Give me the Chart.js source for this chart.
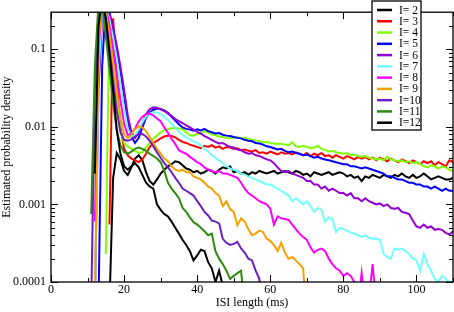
<!DOCTYPE html>
<html>
<head>
<meta charset="utf-8">
<script src="https://cdn.jsdelivr.net/npm/chart.js"></script>
<style>
  body { margin: 0; background: #fff; }
  #wrap { width: 454px; height: 312px; }
</style>
</head>
<body>
<div id="wrap"><canvas id="isi"></canvas></div>

<script>
  // axis ticks
  const xTicks = [0, 20, 40, 60, 80, 100];
  const yTicks = [0.0001, 0.001, 0.01, 0.1];
  const yTickLabels = ['0.0001', '0.001', '0.01', '0.1'];

  // series labels and colours (xmgrace palette)
  const labels = ['I= 2', 'I= 3', 'I= 4', 'I= 5', 'I= 6', 'I= 7', 'I= 8', 'I= 9', 'I=10', 'I=11', 'I=12'];
  const colors = ['#000000', '#ff0000', '#7fff00', '#0000ff', '#9400d3', '#70ffff', '#ff00ff', '#f5a000', '#6a1fc0', '#2f8a10', '#000000'];

  // first ISI bin (ms) of each series, bins are 1 ms apart
  const starts = [16, 16, 15, 13, 12, 12, 12, 12, 11, 11, 12];

  // estimated probability density per 1 ms bin
  const i2 = [5e-5, 2.2e-3, 4.6e-3, 3.8e-3, 2.7e-3, 2.4e-3, 3.0e-3, 3.9e-3, 4.3e-3, 3.7e-3,
    2.6e-3, 2.0e-3, 1.8e-3, 2.1e-3, 2.5e-3, 2.8e-3, 3.1e-3, 3.3e-3, 3.6e-3, 3.5e-3,
    3.2e-3, 2.9e-3, 2.8e-3, 2.6e-3, 2.7e-3, 2.5e-3, 2.6e-3, 2.8e-3, 2.7e-3, 2.5e-3,
    2.8e-3, 3.0e-3, 2.9e-3, 3.1e-3, 2.6e-3, 2.7e-3, 2.5e-3, 2.6e-3, 2.4e-3, 2.6e-3,
    2.5e-3, 2.7e-3, 2.6e-3, 2.5e-3, 2.6e-3, 2.7e-3, 2.5e-3, 2.6e-3, 2.7e-3, 2.6e-3,
    2.5e-3, 2.7e-3, 2.6e-3, 2.4e-3, 2.5e-3, 2.3e-3, 2.6e-3, 2.5e-3, 2.4e-3, 2.5e-3,
    2.6e-3, 2.4e-3, 2.5e-3, 2.6e-3, 2.5e-3, 2.3e-3, 2.4e-3, 2.2e-3, 2.3e-3, 2.0e-3,
    2.3e-3, 2.2e-3, 2.4e-3, 2.3e-3, 2.2e-3, 2.4e-3, 2.3e-3, 2.2e-3, 2.4e-3, 2.3e-3,
    2.5e-3, 2.3e-3, 2.2e-3, 2.4e-3, 2.2e-3, 2.3e-3, 2.5e-3, 2.3e-3, 2.1e-3, 2.2e-3,
    2.3e-3, 2.2e-3, 2.1e-3, 2.1e-3, 2.2e-3];

  const i3 = [5.5e-4, 0.25, 0.04, 0.01, 5.2e-3, 4.3e-3, 3.9e-3, 3.7e-3, 3.5e-3, 3.8e-3,
    4.5e-3, 5.5e-3, 6.2e-3, 6.6e-3, 7.1e-3, 7.5e-3, 7.7e-3, 7.6e-3, 7.3e-3, 6.8e-3,
    6.4e-3, 6.2e-3, 5.9e-3, 5.7e-3, 5.5e-3, 5.3e-3, 5.7e-3, 5.5e-3, 5.8e-3, 5.4e-3,
    5.6e-3, 5.2e-3, 5.5e-3, 5.4e-3, 5.2e-3, 5.3e-3, 5.0e-3, 5.1e-3, 4.9e-3, 4.8e-3,
    5.0e-3, 4.6e-3, 4.7e-3, 4.5e-3, 4.8e-3, 4.6e-3, 4.4e-3, 4.7e-3, 4.5e-3, 4.6e-3,
    4.4e-3, 4.7e-3, 4.5e-3, 4.3e-3, 4.6e-3, 4.2e-3, 4.5e-3, 4.3e-3, 4.6e-3, 4.2e-3,
    4.3e-3, 4.0e-3, 4.3e-3, 4.1e-3, 3.9e-3, 4.2e-3, 4.0e-3, 3.8e-3, 4.1e-3, 3.9e-3,
    4.1e-3, 3.8e-3, 4.0e-3, 3.7e-3, 4.0e-3, 3.8e-3, 3.6e-3, 3.9e-3, 3.7e-3, 3.5e-3,
    3.8e-3, 3.6e-3, 3.4e-3, 3.7e-3, 3.5e-3, 3.3e-3, 3.6e-3, 3.4e-3, 3.6e-3, 3.2e-3,
    3.5e-3, 3.3e-3, 3.1e-3, 3.7e-3, 3.5e-3];

  const i4 = [2.3e-4, 0.3, 0.1, 0.025, 9.0e-3, 6.2e-3, 5.6e-3, 5.2e-3, 4.9e-3, 4.6e-3,
    4.7e-3, 5.4e-3, 6.2e-3, 7.0e-3, 7.7e-3, 8.5e-3, 9.0e-3, 9.4e-3, 9.6e-3, 9.7e-3,
    9.5e-3, 9.3e-3, 8.5e-3, 7.8e-3, 7.7e-3, 8.1e-3, 8.2e-3, 8.8e-3, 8.5e-3, 8.0e-3,
    7.8e-3, 7.5e-3, 7.4e-3, 7.2e-3, 7.1e-3, 7.2e-3, 7.4e-3, 7.1e-3, 7.2e-3, 7.0e-3,
    6.8e-3, 6.6e-3, 6.5e-3, 6.3e-3, 6.4e-3, 6.2e-3, 6.1e-3, 6.0e-3, 6.1e-3, 5.9e-3,
    5.8e-3, 6.3e-3, 5.6e-3, 5.5e-3, 5.7e-3, 5.5e-3, 5.3e-3, 5.4e-3, 5.7e-3, 5.2e-3,
    5.0e-3, 4.8e-3, 4.9e-3, 4.7e-3, 4.6e-3, 4.5e-3, 4.6e-3, 4.3e-3, 4.4e-3, 4.2e-3,
    4.1e-3, 4.2e-3, 4.0e-3, 3.9e-3, 3.8e-3, 3.9e-3, 3.7e-3, 4.1e-3, 3.8e-3, 3.7e-3,
    3.6e-3, 3.7e-3, 3.5e-3, 3.6e-3, 3.4e-3, 3.5e-3, 3.3e-3, 3.1e-3, 3.0e-3, 3.2e-3,
    3.1e-3, 2.9e-3, 3.1e-3, 3.0e-3, 2.8e-3, 2.7e-3];

  const i5 = [5e-5, 0.06, 0.4, 0.3, 0.18, 0.1, 0.052, 0.025, 0.012, 7.5e-3,
    6.2e-3, 7.2e-3, 9.8e-3, 0.013, 0.0152, 0.0166, 0.0172, 0.017, 0.0163, 0.0152,
    0.0135, 0.012, 0.0108, 9.8e-3, 9.4e-3, 9.2e-3, 8.9e-3, 9.3e-3, 9.0e-3, 9.4e-3,
    8.8e-3, 8.5e-3, 8.2e-3, 8.3e-3, 7.9e-3, 7.7e-3, 7.6e-3, 7.4e-3, 7.2e-3, 7.1e-3,
    6.8e-3, 6.6e-3, 6.5e-3, 6.2e-3, 6.1e-3, 5.9e-3, 5.6e-3, 5.5e-3, 5.3e-3, 5.1e-3,
    5.2e-3, 4.9e-3, 4.7e-3, 4.8e-3, 4.6e-3, 4.5e-3, 4.3e-3, 4.4e-3, 4.2e-3, 4.0e-3,
    4.1e-3, 3.9e-3, 3.8e-3, 3.7e-3, 3.6e-3, 3.5e-3, 3.4e-3, 3.3e-3, 3.3e-3, 3.1e-3,
    3.1e-3, 3.0e-3, 2.9e-3, 3.0e-3, 2.9e-3, 2.8e-3, 2.7e-3, 2.6e-3, 2.5e-3, 2.3e-3,
    2.3e-3, 2.2e-3, 2.1e-3, 2.1e-3, 2.0e-3, 1.9e-3, 1.9e-3, 1.8e-3, 1.8e-3, 1.7e-3,
    1.7e-3, 1.6e-3, 1.7e-3, 1.6e-3, 1.5e-3, 1.6e-3, 1.5e-3, 1.5e-3];

  const i6 = [5e-5, 0.03, 0.25, 0.4, 0.28, 0.19, 0.11, 0.06, 0.03, 0.014,
    8.5e-3, 7.2e-3, 8.5e-3, 0.011, 0.0145, 0.0168, 0.0178, 0.0176, 0.0168, 0.016,
    0.0148, 0.0138, 0.0126, 0.0118, 0.0112, 0.0104, 9.8e-3, 9.2e-3, 8.6e-3, 8.2e-3,
    7.6e-3, 7.2e-3, 6.8e-3, 6.4e-3, 6.1e-3, 6.2e-3, 5.8e-3, 5.5e-3, 5.4e-3, 5.1e-3,
    5.0e-3, 4.7e-3, 4.5e-3, 4.6e-3, 4.3e-3, 4.2e-3, 4.0e-3, 3.8e-3, 3.7e-3, 3.4e-3,
    3.0e-3, 2.7e-3, 2.6e-3, 2.7e-3, 2.5e-3, 2.4e-3, 2.3e-3, 2.2e-3, 2.0e-3, 2.0e-3,
    1.8e-3, 1.8e-3, 1.6e-3, 1.7e-3, 1.5e-3, 1.6e-3, 1.5e-3, 1.4e-3, 1.4e-3, 1.3e-3,
    1.4e-3, 1.2e-3, 1.2e-3, 1.1e-3, 1.2e-3, 1.1e-3, 1.05e-3, 1.0e-3, 1.03e-3, 9.5e-4,
    1.0e-3, 9.0e-4, 8.8e-4, 9.0e-4, 8.0e-4, 7.8e-4, 7.5e-4, 6.2e-4, 5.2e-4, 5.0e-4,
    5.5e-4, 5.0e-4, 5.2e-4, 4.7e-4, 4.8e-4, 4.7e-4, 4.3e-4, 4.1e-4, 4.5e-4];

  const i7 = [5e-5, 0.05, 0.3, 0.35, 0.24, 0.14, 0.075, 0.036, 0.017, 9.5e-3,
    7.5e-3, 7.8e-3, 9.2e-3, 0.0115, 0.0135, 0.0148, 0.0155, 0.0153, 0.0146, 0.0134,
    0.0122, 0.011, 9.8e-3, 8.6e-3, 7.9e-3, 7.3e-3, 6.9e-3, 6.5e-3, 6.2e-3, 5.8e-3,
    5.2e-3, 4.8e-3, 4.3e-3, 4.0e-3, 3.7e-3, 3.4e-3, 3.1e-3, 2.9e-3, 2.8e-3, 2.7e-3,
    2.5e-3, 2.4e-3, 2.3e-3, 2.2e-3, 2.1e-3, 2.0e-3, 1.9e-3, 1.8e-3, 1.8e-3, 1.7e-3,
    1.6e-3, 1.5e-3, 1.4e-3, 1.3e-3, 1.1e-3, 1.2e-3, 1.1e-3, 1.0e-3, 1.1e-3, 9.5e-4,
    8.0e-4, 9.0e-4, 8.5e-4, 6.0e-4, 6.8e-4, 6.5e-4, 4.4e-4, 5.0e-4, 4.8e-4, 4.6e-4,
    4.3e-4, 4.2e-4, 4.0e-4, 3.8e-4, 4.0e-4, 3.7e-4, 3.6e-4, 3.6e-4, 3.5e-4, 2.3e-4,
    2.1e-4, 2.0e-4, 2.7e-4, 2.6e-4, 2.7e-4, 2.5e-4, 2.3e-4, 2.0e-4, 1.9e-4, 1.4e-4,
    2.3e-4, 1.7e-4, 1.4e-4, 1.1e-4, 1.0e-4, 1.2e-4, 1.1e-4, 1.0e-4, 1.0e-4];

  const i8 = [6e-4, 0.1, 0.4, 0.35, 0.2, 0.1, 0.048, 0.022, 0.011, 7.8e-3,
    8.2e-3, 9.5e-3, 0.0117, 0.0135, 0.0145, 0.0148, 0.014, 0.0128, 0.0118, 9.8e-3,
    8.4e-3, 7.0e-3, 6.0e-3, 5.0e-3, 4.7e-3, 4.5e-3, 4.1e-3, 3.8e-3, 3.5e-3, 3.3e-3,
    3.0e-3, 2.8e-3, 2.7e-3, 2.6e-3, 2.7e-3, 2.5e-3, 2.5e-3, 2.4e-3, 2.3e-3, 2.2e-3,
    1.9e-3, 1.6e-3, 1.4e-3, 1.3e-3, 1.2e-3, 1.1e-3, 1.05e-3, 1.0e-3, 8.8e-4, 5.5e-4,
    7.0e-4, 6.6e-4, 6.5e-4, 6.3e-4, 5.5e-4, 4.8e-4, 4.2e-4, 3.8e-4, 3.5e-4, 2.8e-4,
    2.4e-4, 2.6e-4, 2.7e-4, 2.5e-4, 2.0e-4, 1.7e-4, 1.5e-4, 1.4e-4, 1.2e-4, 1.3e-4,
    1.2e-4, 1.0e-4, 5e-5, 1.3e-4, 5e-5, 6e-5, 1.7e-4, 5e-5];

  const i9 = [5e-5, 0.12, 0.45, 0.32, 0.15, 0.065, 0.028, 0.013, 8.0e-3, 7.1e-3,
    8.0e-3, 9.3e-3, 0.0102, 9.8e-3, 8.8e-3, 7.4e-3, 6.2e-3, 5.2e-3, 4.5e-3, 3.9e-3,
    3.6e-3, 3.1e-3, 2.8e-3, 2.7e-3, 2.8e-3, 2.6e-3, 2.6e-3, 2.3e-3, 2.2e-3, 2.1e-3,
    1.9e-3, 1.7e-3, 1.6e-3, 1.4e-3, 1.3e-3, 9.5e-4, 1.1e-3, 8.7e-4, 8.0e-4, 5.4e-4,
    6.6e-4, 6.0e-4, 4.8e-4, 4.0e-4, 4.2e-4, 4.6e-4, 4.4e-4, 3.6e-4, 3.4e-4, 3.0e-4,
    2.5e-4, 3.2e-4, 2.4e-4, 2.0e-4, 2.1e-4, 1.9e-4, 1.7e-4, 1.5e-4, 3e-5];

  const i10 = [5e-5, 0.03, 0.3, 0.4, 0.25, 0.1, 0.04, 0.016, 8.5e-3, 6.8e-3,
    6.6e-3, 6.9e-3, 7.5e-3, 8.0e-3, 8.1e-3, 7.5e-3, 6.6e-3, 5.6e-3, 4.7e-3, 4.0e-3,
    3.4e-3, 3.0e-3, 2.6e-3, 2.2e-3, 1.9e-3, 1.6e-3, 1.5e-3, 1.4e-3, 1.3e-3, 1.1e-3,
    9.5e-4, 8.0e-4, 7.2e-4, 6.2e-4, 6.0e-4, 5.7e-4, 3.6e-4, 3.2e-4, 3.0e-4, 3.1e-4,
    3.3e-4, 2.7e-4, 2.4e-4, 2.0e-4, 1.9e-4, 1.4e-4, 1.1e-4, 5e-5];

  const i11 = [7.5e-4, 0.06, 0.4, 0.35, 0.15, 0.055, 0.02, 9.0e-3, 5.8e-3, 4.7e-3,
    4.5e-3, 4.8e-3, 5.2e-3, 5.4e-3, 5.2e-3, 4.9e-3, 4.5e-3, 4.2e-3, 3.9e-3, 3.5e-3,
    2.7e-3, 1.9e-3, 1.6e-3, 1.4e-3, 1.2e-3, 9.0e-4, 8.0e-4, 6.8e-4, 5.9e-4, 5.5e-4,
    5.0e-4, 4.5e-4, 4.0e-4, 4.2e-4, 2.5e-4, 2.0e-4, 1.7e-4, 1.4e-4, 1.1e-4, 1.2e-4,
    1.3e-4, 1.4e-4, 5e-5];

  const i12 = [2.5e-3, 0.2, 0.45, 0.25, 0.09, 0.03, 9.0e-3, 4.5e-3, 3.1e-3, 2.8e-3,
    3.1e-3, 3.4e-3, 3.0e-3, 2.4e-3, 1.9e-3, 1.7e-3, 1.6e-3, 1.0e-3, 8.5e-4, 7.5e-4,
    7.0e-4, 6.0e-4, 5.0e-4, 4.2e-4, 3.5e-4, 3.0e-4, 2.5e-4, 1.9e-4, 2.2e-4, 2.6e-4,
    2.5e-4, 1.8e-4, 1.5e-4, 1.0e-4, 1.4e-4, 9e-5, 5e-5];

  const series = [i2, i3, i4, i5, i6, i7, i8, i9, i10, i11, i12];

  Chart.defaults.font.family = '"Liberation Serif", "Times New Roman", serif';
  Chart.defaults.font.size = 12;
  Chart.defaults.color = '#000';

  const datasets = series.map((vals, i) => ({
    label: labels[i],
    data: vals.map((v, k) => ({x: starts[i] + k, y: v})),
    borderColor: colors[i],
    borderWidth: 2,
    pointRadius: 0,
    tension: 0,
    clip: 0,
    order: series.length - i
  }));

  // frame, inward ticks and the legend box, drawn the xmgrace way
  const gracePlugin = {
    id: 'grace',
    afterDatasetsDraw(chart) {
      const {ctx, chartArea: a, scales: {x, y}} = chart;
      ctx.save();
      ctx.strokeStyle = '#000';
      ctx.lineWidth = 1.3;
      ctx.strokeRect(a.left, a.top, a.right - a.left, a.bottom - a.top);

      const seg = (x1, y1, x2, y2) => {
        ctx.beginPath(); ctx.moveTo(x1, y1); ctx.lineTo(x2, y2); ctx.stroke();
      };
      ctx.lineWidth = 1;
      for (let v = 0; v <= 110; v += 10) {
        const px = Math.round(x.getPixelForValue(v)) + 0.5;
        const len = xTicks.includes(v) ? 7 : 4;
        seg(px, a.bottom, px, a.bottom - len);
        seg(px, a.top, px, a.top + len);
      }
      for (const d of yTicks) {
        for (let m = 1; m <= 9; m++) {
          const v = d * m;
          if (v > y.max) break;
          const py = Math.round(y.getPixelForValue(v)) + 0.5;
          const len = m === 1 ? 7 : 4;
          seg(a.left, py, a.left + len, py);
          seg(a.right, py, a.right - len, py);
        }
      }

      // legend
      const bx = 372, by = 1, bw = 49, bh = 129, row = 11.27;
      ctx.fillStyle = '#fff';
      ctx.fillRect(bx, by, bw, bh);
      ctx.lineWidth = 1.3;
      ctx.strokeRect(bx, by, bw, bh);
      ctx.font = '11.5px "Liberation Serif", serif';
      ctx.textBaseline = 'middle';
      ctx.textAlign = 'left';
      chart.data.datasets.forEach((ds, i) => {
        const ry = 10 + i * row;
        ctx.strokeStyle = ds.borderColor;
        ctx.lineWidth = 2.5;
        seg(377, ry, 392, ry);
        ctx.fillStyle = '#000';
        ctx.fillText(ds.label, 399, ry + 0.5);
      });
      ctx.restore();
    }
  };

  new Chart(document.getElementById('isi'), {
    type: 'line',
    data: {datasets: datasets},
    plugins: [gracePlugin],
    options: {
      responsive: true,
      maintainAspectRatio: false,
      animation: false,
      layout: {padding: {top: 2, right: 1, left: 0, bottom: 0}},
      plugins: {legend: {display: false}, tooltip: {enabled: false}},
      scales: {
        x: {
          type: 'linear',
          min: 0,
          max: 110,
          grid: {display: false, drawTicks: false},
          border: {display: false},
          afterBuildTicks: s => { s.ticks = xTicks.map(v => ({value: v})); },
          afterFit: s => { s.height = 30; },
          ticks: {padding: 1, maxRotation: 0, font: {size: 12}},
          title: {display: true, text: 'ISI length (ms)', font: {size: 12}, padding: {top: 0, bottom: 2}}
        },
        y: {
          type: 'logarithmic',
          min: 0.0001,
          max: 0.3,
          grid: {display: false, drawTicks: false},
          border: {display: false},
          afterBuildTicks: s => { s.ticks = yTicks.map(v => ({value: v})); },
          afterFit: s => { s.width = 51; },
          ticks: {
            padding: 5,
            font: {size: 12},
            callback: v => yTickLabels[yTicks.indexOf(v)] ?? ''
          },
          title: {display: true, text: 'Estimated probability density', font: {size: 12}, padding: 0}
        }
      }
    }
  });
</script>
</body>
</html>
